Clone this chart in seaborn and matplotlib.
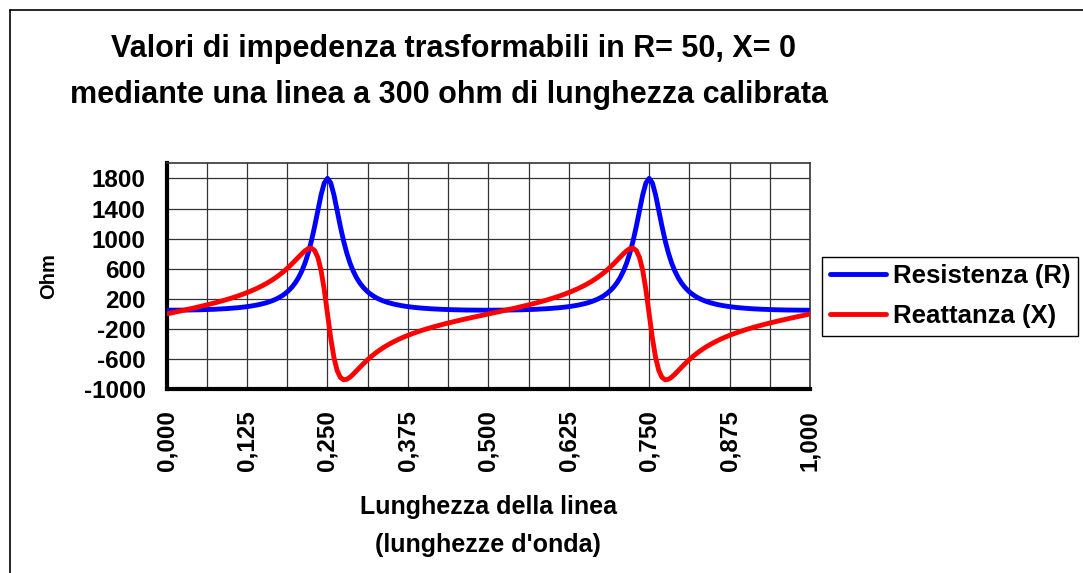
import numpy as np
import pandas as pd
import matplotlib
matplotlib.use("Agg")
import matplotlib.pyplot as plt
import seaborn as sns
from matplotlib.lines import Line2D

# Line length in wavelengths (0.005 steps)
lunghezza = [round(0.005 * i, 3) for i in range(201)]

# Resistance seen at the input of the 300 ohm line (ohm)
resistenza = [
    50.0, 50.0, 50.2, 50.4, 50.8, 51.2, 51.8, 52.4, 53.2, 54.1, 55.1, 56.3, 57.6, 59.1, 60.7, 62.5, 64.6,
    66.8, 69.4, 72.2, 75.3, 78.8, 82.6, 87.0, 91.8, 97.3, 103.4, 110.4, 118.3, 127.2, 137.5, 149.3, 162.9,
    178.8, 197.3, 219.2, 245.1, 276.1, 313.4, 358.9, 414.5, 483.3, 568.8, 675.3, 807.6, 969.5, 1161.4,
    1374.1, 1581.7, 1739.8, 1800.0,
    1739.8, 1581.7, 1374.1, 1161.4, 969.5, 807.6, 675.3, 568.8, 483.3, 414.5, 358.9, 313.4, 276.1, 245.1,
    219.2, 197.3, 178.8, 162.9, 149.3, 137.5, 127.2, 118.3, 110.4, 103.4, 97.3, 91.8, 87.0, 82.6, 78.8,
    75.3, 72.2, 69.4, 66.8, 64.6, 62.5, 60.7, 59.1, 57.6, 56.3, 55.1, 54.1, 53.2, 52.4, 51.8, 51.2, 50.8,
    50.4, 50.2, 50.0, 50.0,
    50.0, 50.2, 50.4, 50.8, 51.2, 51.8, 52.4, 53.2, 54.1, 55.1, 56.3, 57.6, 59.1, 60.7, 62.5, 64.6,
    66.8, 69.4, 72.2, 75.3, 78.8, 82.6, 87.0, 91.8, 97.3, 103.4, 110.4, 118.3, 127.2, 137.5, 149.3, 162.9,
    178.8, 197.3, 219.2, 245.1, 276.1, 313.4, 358.9, 414.5, 483.3, 568.8, 675.3, 807.6, 969.5, 1161.4,
    1374.1, 1581.7, 1739.8, 1800.0,
    1739.8, 1581.7, 1374.1, 1161.4, 969.5, 807.6, 675.3, 568.8, 483.3, 414.5, 358.9, 313.4, 276.1, 245.1,
    219.2, 197.3, 178.8, 162.9, 149.3, 137.5, 127.2, 118.3, 110.4, 103.4, 97.3, 91.8, 87.0, 82.6, 78.8,
    75.3, 72.2, 69.4, 66.8, 64.6, 62.5, 60.7, 59.1, 57.6, 56.3, 55.1, 54.1, 53.2, 52.4, 51.8, 51.2, 50.8,
    50.4, 50.2, 50.0, 50.0,
]

# Reactance seen at the input of the 300 ohm line (ohm)
reattanza = [
    0.0, 9.2, 18.3, 27.6, 36.8, 46.2, 55.6, 65.1, 74.8, 84.5, 94.5, 104.6, 115.0, 125.6, 136.4, 147.6,
    159.0, 170.8, 183.1, 195.7, 208.8, 222.5, 236.8, 251.7, 267.3, 283.8, 301.1, 319.4, 338.8, 359.4,
    381.4, 404.8, 429.9, 456.9, 485.9, 517.1, 550.7, 586.9, 625.8, 667.2, 710.7, 755.3, 799.2, 838.6,
    867.1, 873.9, 842.5, 751.0, 578.2, 318.6, 0.0,
    -318.6, -578.2, -751.0, -842.5, -873.9, -867.1, -838.6, -799.2, -755.3, -710.7, -667.2, -625.8,
    -586.9, -550.7, -517.1, -485.9, -456.9, -429.9, -404.8, -381.4, -359.4, -338.8, -319.4, -301.1,
    -283.8, -267.3, -251.7, -236.8, -222.5, -208.8, -195.7, -183.1, -170.8, -159.0, -147.6, -136.4,
    -125.6, -115.0, -104.6, -94.5, -84.5, -74.8, -65.1, -55.6, -46.2, -36.8, -27.6, -18.3, -9.2, 0.0,
    9.2, 18.3, 27.6, 36.8, 46.2, 55.6, 65.1, 74.8, 84.5, 94.5, 104.6, 115.0, 125.6, 136.4, 147.6,
    159.0, 170.8, 183.1, 195.7, 208.8, 222.5, 236.8, 251.7, 267.3, 283.8, 301.1, 319.4, 338.8, 359.4,
    381.4, 404.8, 429.9, 456.9, 485.9, 517.1, 550.7, 586.9, 625.8, 667.2, 710.7, 755.3, 799.2, 838.6,
    867.1, 873.9, 842.5, 751.0, 578.2, 318.6, 0.0,
    -318.6, -578.2, -751.0, -842.5, -873.9, -867.1, -838.6, -799.2, -755.3, -710.7, -667.2, -625.8,
    -586.9, -550.7, -517.1, -485.9, -456.9, -429.9, -404.8, -381.4, -359.4, -338.8, -319.4, -301.1,
    -283.8, -267.3, -251.7, -236.8, -222.5, -208.8, -195.7, -183.1, -170.8, -159.0, -147.6, -136.4,
    -125.6, -115.0, -104.6, -94.5, -84.5, -74.8, -65.1, -55.6, -46.2, -36.8, -27.6, -18.3, -9.2, 0.0,
]

serie = ["Resistenza (R)", "Reattanza (X)"]
colori = ["#0000FF", "#FF0000"]
x_ticks = [0.0, 0.125, 0.25, 0.375, 0.5, 0.625, 0.75, 0.875, 1.0]
y_ticks = [-1000, -600, -200, 200, 600, 1000, 1400, 1800]

df = pd.DataFrame({
    "L": lunghezza * 2,
    "Ohm": resistenza + reattanza,
    "Serie": [serie[0]] * len(lunghezza) + [serie[1]] * len(lunghezza),
})

sns.set_style("white")
plt.rcParams["font.family"] = ["Liberation Sans", "DejaVu Sans"]
plt.rcParams["font.weight"] = "bold"
for key in ["text.color", "axes.labelcolor", "xtick.color", "ytick.color"]:
    plt.rcParams[key] = "black"

fig = plt.figure(figsize=(10.83, 5.73), dpi=100)
ax = fig.add_axes([0.1539, 0.3206, 0.7479 - 0.1539, 0.715 - 0.3206])

sns.lineplot(data=df, x="L", y="Ohm", hue="Serie", hue_order=serie, palette=colori,
             linewidth=3.5, ax=ax, legend=False, zorder=3)

ax.set_xlim(0, 1)
ax.set_ylim(-1000, 2000)

# grid at every half-step of the labelled ticks
grid_c = "#333333"
for gx in np.arange(0.0625, 1.0, 0.0625):
    ax.axvline(gx, color=grid_c, lw=0.9, zorder=1)
for gy in y_ticks[1:]:
    ax.axhline(gy, color=grid_c, lw=0.9, zorder=1)

ax.set_xticks(x_ticks)
ax.set_xticklabels([f"{v:.3f}".replace(".", ",") for v in x_ticks], rotation=90,
                   fontsize=17.5, fontweight="bold")
ax.set_xticks(np.arange(0.0625, 1.0, 0.125), minor=True)
ax.set_yticks(y_ticks)
ax.set_yticklabels([str(v) for v in y_ticks], fontsize=17.5, fontweight="bold")

ax.tick_params(axis="both", which="both", direction="out", length=7, width=2.5, color="black")
ax.tick_params(axis="x", which="major", pad=8)
ax.tick_params(axis="y", pad=8)

for side in ["top", "right"]:
    ax.spines[side].set_visible(True)
    ax.spines[side].set_color(grid_c)
    ax.spines[side].set_linewidth(1.2)
for side in ["left", "bottom"]:
    ax.spines[side].set_color("black")
    ax.spines[side].set_linewidth(3)

ax.set_xlabel("Lunghezza della linea\n(lunghezze d'onda)", fontsize=18, fontweight="bold",
              linespacing=1.75)
ax.xaxis.set_label_coords(0.5, -0.468)
ax.set_ylabel("Ohm", fontsize=14.5, fontweight="bold")
ax.yaxis.set_label_coords(-0.168, 0.5)

fig.text(0.419, 0.914, "Valori di impedenza trasformabili in R= 50, X= 0",
         ha="center", va="center", fontsize=22, fontweight="bold")
fig.text(0.415, 0.834, "mediante una linea a 300 ohm di lunghezza calibrata",
         ha="center", va="center", fontsize=22, fontweight="bold")

handles = [Line2D([0], [0], color=c, lw=3.5) for c in colori]
leg = fig.legend(handles, serie, loc="upper left", bbox_to_anchor=(0.759, 0.552),
                 frameon=True, fancybox=False, edgecolor="black", framealpha=1,
                 prop={"size": 18.5, "weight": "bold"}, handlelength=2.2,
                 handletextpad=0.25, borderpad=0.3, labelspacing=0.61, borderaxespad=0)
leg.get_frame().set_linewidth(1.0)

# outer chart border
fig.add_artist(Line2D([10 / 1083, 1.0], [1 - 10 / 573, 1 - 10 / 573], color="black", lw=1.2,
                      transform=fig.transFigure))
fig.add_artist(Line2D([10 / 1083, 10 / 1083], [0.0, 1 - 10 / 573], color="black", lw=1.2,
                      transform=fig.transFigure))

fig.savefig("out.png", dpi=100, facecolor="white")
